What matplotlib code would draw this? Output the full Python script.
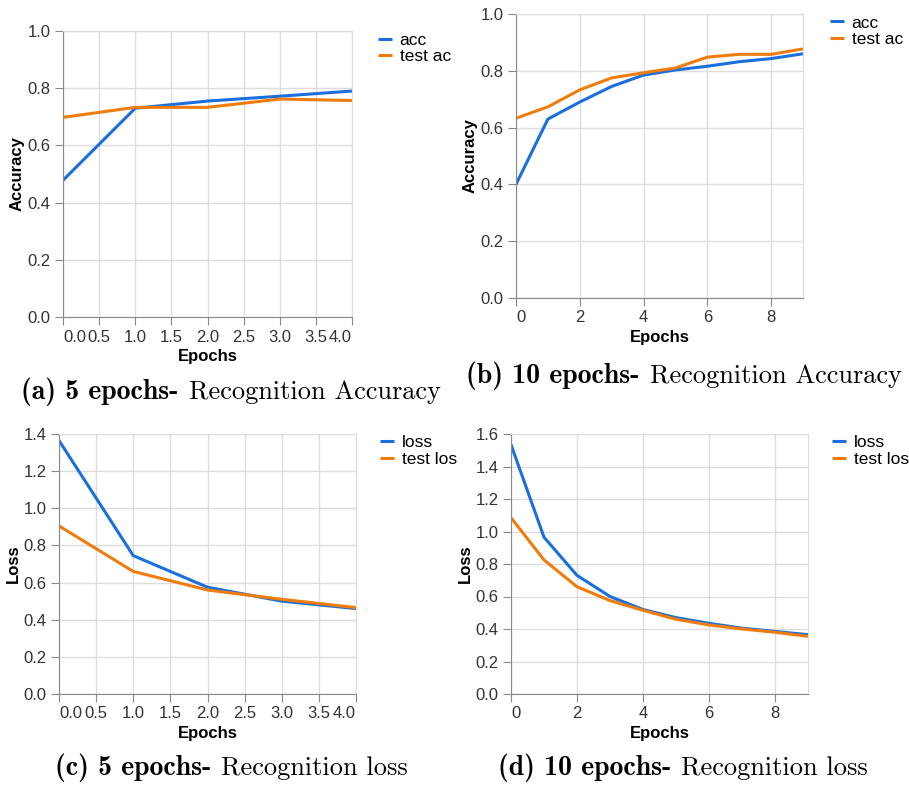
import matplotlib
matplotlib.use("Agg")
import matplotlib.pyplot as plt
from matplotlib.offsetbox import TextArea, HPacker, AnnotationBbox

# Données
epochs_5 = [0, 1, 2, 3, 4]
epochs_10 = [0, 1, 2, 3, 4, 5, 6, 7, 8, 9]

acc_5 = [0.478, 0.730, 0.755, 0.772, 0.790]
test_acc_5 = [0.698, 0.733, 0.733, 0.762, 0.757]

acc_10 = [0.400, 0.630, 0.690, 0.745, 0.785, 0.803, 0.816, 0.832, 0.843, 0.860]
test_acc_10 = [0.633, 0.673, 0.733, 0.775, 0.793, 0.810, 0.848, 0.858, 0.858, 0.877]

loss_5 = [1.365, 0.745, 0.575, 0.500, 0.460]
test_loss_5 = [0.905, 0.660, 0.560, 0.510, 0.465]

loss_10 = [1.535, 0.965, 0.730, 0.600, 0.520, 0.470, 0.435, 0.405, 0.385, 0.365]
test_loss_10 = [1.085, 0.825, 0.660, 0.575, 0.515, 0.460, 0.425, 0.400, 0.380, 0.355]

BLUE = "#1a6fdc"
ORANGE = "#f07c0c"
W, H = 909, 785

plt.rcParams["font.family"] = ["Liberation Sans", "DejaVu Sans"]

fig = plt.figure(figsize=(W / 100, H / 100), dpi=100)


def make_axes(left, top, right, bottom):
    return fig.add_axes([left / W, 1 - bottom / H, (right - left) / W, (bottom - top) / H])


def style(ax, x, ya, yb, la, lb, xticks, xlabels, ylim, ystep, ylabel, leg_dx, leg_dy):
    ax.plot(x, ya, color=BLUE, lw=2.2, label=la, solid_capstyle="butt")
    ax.plot(x, yb, color=ORANGE, lw=2.2, label=lb, solid_capstyle="butt")
    ax.set_xlim(x[0], x[-1])
    ax.set_ylim(0, ylim)
    yt = [round(i * ystep, 1) for i in range(int(round(ylim / ystep)) + 1)]
    ax.set_yticks(yt)
    ax.set_yticklabels([f"{v:.1f}" for v in yt])
    ax.set_xticks(xticks)
    ax.set_xticklabels(xlabels)
    labs = ax.get_xticklabels()
    labs[0].set_ha("left")
    if xticks[-1] == x[-1]:
        labs[-1].set_ha("right")
    ax.grid(True, color="#dddddd", lw=1)
    ax.set_axisbelow(True)
    for s in ["top", "right"]:
        ax.spines[s].set_color("#dddddd")
    for s in ["left", "bottom"]:
        ax.spines[s].set_color("#888888")
    ax.tick_params(length=6, color="#888888", labelcolor="#333333", labelsize=12, pad=3)
    ax.set_xlabel("Epochs", fontweight="bold", fontsize=12, labelpad=3)
    ax.set_ylabel(ylabel, fontweight="bold", fontsize=12, labelpad=2)
    ax.legend(loc="upper left", bbox_to_anchor=(1 + leg_dx, leg_dy), frameon=False,
              borderpad=0, borderaxespad=0, handlelength=0.8, handletextpad=0.45,
              labelspacing=0.1, fontsize=12.5)


def caption(cx, cy, bold, rest):
    t1 = TextArea(bold, textprops=dict(family="cmb10", size=20))
    t2 = TextArea(rest, textprops=dict(family="cmr10", size=19))
    box = HPacker(children=[t1, t2], align="baseline", pad=0, sep=7)
    ab = AnnotationBbox(box, (cx, H - cy), xycoords="figure pixels", frameon=False,
                        box_alignment=(0.5, 0.5))
    fig.add_artist(ab)


half_ticks = [0, 0.5, 1, 1.5, 2, 2.5, 3, 3.5, 4]
half_labels = [f"{v:.1f}" for v in half_ticks]
even_ticks = [0, 2, 4, 6, 8]
even_labels = [str(v) for v in even_ticks]

ax1 = make_axes(63, 31, 352, 317)
style(ax1, epochs_5, acc_5, test_acc_5, "acc", "test ac", half_ticks, half_labels,
      1.0, 0.2, "Accuracy", 26 / 289, 0.995)

ax2 = make_axes(516, 14, 803, 298)
style(ax2, epochs_10, acc_10, test_acc_10, "acc", "test ac", even_ticks, even_labels,
      1.0, 0.2, "Accuracy", 27 / 287, 0.995)

ax3 = make_axes(59, 434, 356, 694)
style(ax3, epochs_5, loss_5, test_loss_5, "loss", "test los", half_ticks, half_labels,
      1.4, 0.2, "Loss", 24 / 297, 0.995)

ax4 = make_axes(511, 434, 808, 694)
style(ax4, epochs_10, loss_10, test_loss_10, "loss", "test los", even_ticks, even_labels,
      1.6, 0.2, "Loss", 24 / 297, 0.995)

caption(231, 392, "(a) 5 epochs-", "Recognition Accuracy")
caption(684, 376, "(b) 10 epochs-", "Recognition Accuracy")
caption(231, 768, "(c) 5 epochs-", "Recognition loss")
caption(683, 768, "(d) 10 epochs-", "Recognition loss")

fig.savefig("out.png", dpi=100)
